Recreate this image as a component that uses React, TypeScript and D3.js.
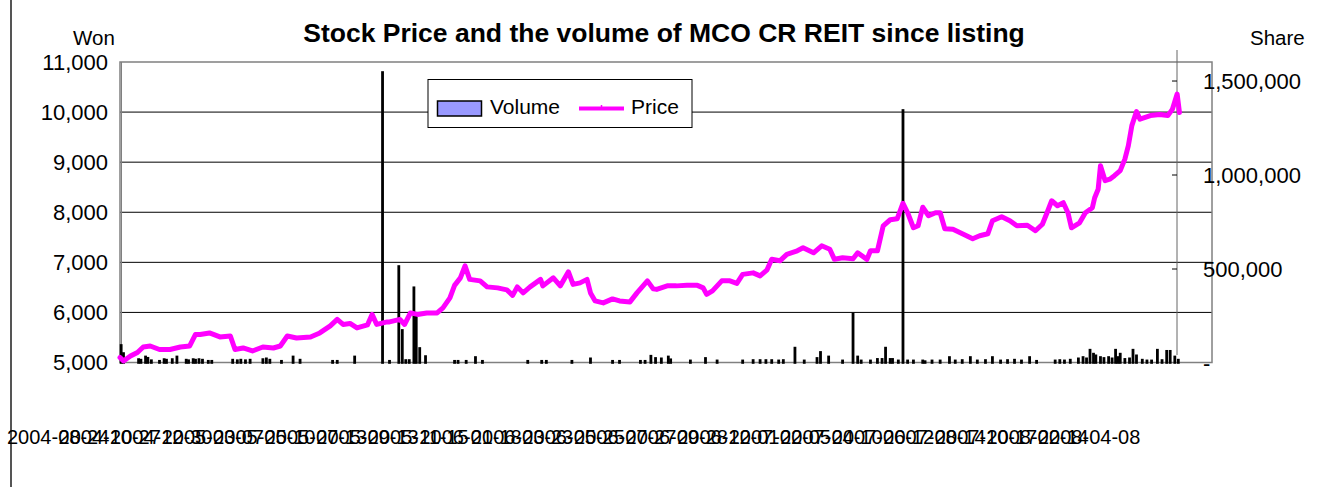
import React from 'react';
import * as d3 from 'd3';

// trading-day index (from listing) and closing price
const priceDays = [
  0, 3, 9, 15, 20, 26, 34, 43, 52, 60, 65, 69, 77, 86, 95, 99, 106, 114, 123, 132,
  138, 144, 152, 164, 172, 181, 187, 192, 198, 204, 213, 217, 221, 230, 232, 241, 245, 250, 256, 264,
  273, 278, 284, 288, 293, 297, 301, 310, 316, 325, 333, 338, 342, 347, 353, 362, 364, 373, 379, 386,
  390, 396, 402, 405, 409, 416, 424, 430, 439, 445, 454, 459, 462, 471, 479, 488, 497, 502, 505, 510,
  518, 525, 531, 536, 545, 551, 557, 561, 568, 574, 583, 588, 597, 604, 611, 615, 622, 631, 635, 643,
  646, 652, 657, 663, 669, 674, 678, 683, 687, 691, 696, 702, 706, 710, 717, 726, 734, 740, 747, 751,
  759, 766, 772, 781, 788, 794, 798, 802, 807, 812, 816, 819, 826, 831, 837, 839, 842, 844, 848, 852,
  856, 861, 865, 868, 871, 875, 878, 887, 895, 902, 906, 910, 912
];
const priceValues = [
  5100, 5030, 5130, 5200, 5310, 5330, 5260, 5260, 5310, 5330, 5560, 5560, 5590, 5510, 5530, 5260, 5290, 5230, 5310, 5290,
  5330, 5530, 5490, 5510, 5590, 5730, 5860, 5760, 5780, 5690, 5750, 5960, 5760, 5810, 5810, 5860, 5760, 5990, 5960, 5990,
  5990, 6090, 6290, 6540, 6690, 6930, 6660, 6630, 6510, 6490, 6450, 6340, 6510, 6390, 6510, 6660, 6530, 6690, 6530, 6810,
  6560, 6590, 6660, 6390, 6230, 6190, 6270, 6230, 6210, 6390, 6630, 6470, 6460, 6530, 6530, 6540, 6540, 6490, 6360, 6430,
  6630, 6630, 6580, 6760, 6790, 6730, 6850, 7060, 7030, 7160, 7230, 7290, 7190, 7330, 7260, 7060, 7090, 7070, 7190, 7060,
  7230, 7230, 7730, 7850, 7870, 8180, 7990, 7690, 7730, 8100, 7930, 7990, 7990, 7670, 7660, 7560, 7470, 7530, 7570, 7830,
  7910, 7830, 7730, 7740, 7630, 7760, 7990, 8230, 8130, 8190, 7990, 7690, 7790, 7990, 8090, 8290, 8460, 8930, 8630, 8660,
  8730, 8830, 9060, 9330, 9730, 10010, 9860, 9930, 9950, 9930, 10060, 10360, 9990
];

// trading-day index and traded shares
const volumeDays = [
  1, 3, 16, 18, 22, 24, 27, 34, 38, 40, 45, 49, 57, 59, 63, 65, 68, 71, 76, 79,
  97, 101, 104, 108, 112, 123, 126, 129, 139, 149, 155, 183, 187, 202, 226, 232, 240, 243, 246, 249,
  253, 255, 258, 263, 288, 291, 298, 306, 312, 351, 363, 367, 389, 405, 424, 430, 448, 452, 457, 461,
  466, 472, 474, 491, 504, 514, 536, 545, 551, 556, 561, 567, 571, 581, 589, 600, 603, 610, 622, 631,
  635, 638, 646, 652, 656, 659, 663, 665, 670, 674, 678, 683, 691, 693, 699, 706, 714, 719, 725, 732,
  738, 745, 751, 758, 764, 770, 776, 783, 789, 805, 809, 813, 818, 825, 829, 832, 835, 838, 840, 844,
  847, 851, 854, 857, 859, 861, 865, 869, 872, 875, 880, 884, 888, 893, 897, 901, 904, 908, 911
];
const volumeValues = [
  96000, 53000, 21000, 18000, 35000, 28000, 15000, 12000, 21000, 18000, 21000, 35000, 18000, 15000, 21000, 18000, 21000, 18000, 12000, 12000,
  18000, 15000, 18000, 15000, 18000, 21000, 25000, 18000, 12000, 35000, 18000, 12000, 12000, 35000, 1548000, 12000, 516000, 176000, 16000, 16000,
  403000, 250000, 80000, 37000, 12000, 12000, 12000, 32000, 12000, 12000, 12000, 12000, 12000, 25000, 12000, 12000, 12000, 12000, 39000, 27000,
  25000, 35000, 20000, 14000, 27000, 14000, 14000, 16000, 16000, 16000, 16000, 14000, 16000, 82000, 14000, 27000, 59000, 35000, 14000, 264000,
  35000, 14000, 14000, 22000, 22000, 82000, 22000, 22000, 14000, 1346000, 14000, 14000, 14000, 10000, 14000, 14000, 32000, 14000, 16000, 32000,
  14000, 16000, 32000, 14000, 16000, 18000, 14000, 32000, 12000, 14000, 16000, 14000, 18000, 25000, 32000, 25000, 71000, 50000, 41000, 32000,
  27000, 32000, 25000, 71000, 32000, 50000, 22000, 25000, 71000, 41000, 18000, 14000, 14000, 71000, 16000, 65000, 65000, 35000, 18000
];

const priceTicks = [5000, 6000, 7000, 8000, 9000, 10000, 11000];
const shareTicks = [500000, 1000000, 1500000];

const dateLabels = [
  '2004-08-24', '2004-10-27', '2004-12-30', '2005-03-07', '2005-05-10', '2005-07-13', '2005-09-13',
  '2005-11-15', '2006-01-18', '2006-03-23', '2006-05-25', '2006-07-27', '2006-09-28', '2006-12-01',
  '2007-02-05', '2007-04-10', '2007-06-12', '2007-08-14', '2007-10-17', '2008-02-14', '2008-04-08'
];

const FONT = "Arial, 'Liberation Sans', sans-serif";

export default function App() {
  const left = 120;
  const right = 1212;
  const top = 62;
  const bottom = 362.5;

  const x = d3.scaleLinear().domain([0, 940]).range([left, right]);
  const yPrice = d3.scaleLinear().domain([5000, 11000]).range([bottom, top]);
  const yVol = d3.scaleLinear().domain([0, 1665000]).range([363, 50]);
  const xLab = d3.scalePoint<string>().domain(dateLabels).range([7, 1038]);
  const fmt = d3.format(',');

  const line = d3
    .line<number>()
    .x((_, i) => x(priceDays[i]))
    .y(d => yPrice(d));

  const bw = 1.2;

  return (
    <svg
      width={1337}
      height={487}
      style={{ position: 'absolute', left: 0, top: 0, background: '#fff' }}
      fontFamily={FONT}
    >
      <line x1={11} x2={11} y1={0} y2={487} stroke="#555" strokeWidth={2} />

      <text x={664} y={42} textAnchor="middle" fontWeight="bold" fontSize={26.5}>
        Stock Price and the volume of MCO CR REIT since listing
      </text>
      <text x={73} y={45} fontSize={20.5}>Won</text>
      <text x={1250} y={45} fontSize={20.5}>Share</text>

      {/* gridlines */}
      {priceTicks.slice(1, -1).map(t => (
        <line key={t} x1={left} x2={right} y1={yPrice(t)} y2={yPrice(t)} stroke="#000" strokeWidth={1} />
      ))}
      <rect x={left} y={top} width={right - left} height={bottom - top} fill="none" stroke="#808080" strokeWidth={1.5} />
      <line x1={left + 1.5} x2={left + 1.5} y1={top} y2={bottom} stroke="#808080" strokeWidth={1} />

      {priceTicks.map(t => (
        <text key={t} x={108} y={yPrice(t)} dy="0.35em" textAnchor="end" fontSize={22}>
          {fmt(t)}
        </text>
      ))}

      {/* secondary axis */}
      <line x1={1177} x2={1177} y1={50} y2={355} stroke="#666" strokeWidth={1} />
      {shareTicks.map(t => (
        <g key={t}>
          <line x1={1172} x2={1177} y1={yVol(t)} y2={yVol(t)} stroke="#000" />
          <text x={1203} y={yVol(t)} dy="0.35em" fontSize={22}>
            {fmt(t)}
          </text>
        </g>
      ))}
      <text x={1203} y={yVol(0)} dy="0.35em" fontSize={22}>-</text>

      {/* volume bars */}
      {volumeDays.map((d, i) => (
        <rect
          key={d}
          x={x(d) - bw / 2}
          y={yVol(volumeValues[i])}
          width={bw}
          height={yVol(0) - yVol(volumeValues[i])}
          fill="#9999FF"
          stroke="#000"
          strokeWidth={1.6}
        />
      ))}

      {/* price */}
      <path
        d={line(priceValues) || ''}
        fill="none"
        stroke="#FF00FF"
        strokeWidth={5}
        strokeLinejoin="round"
        strokeLinecap="round"
      />

      {/* legend */}
      <rect x={428} y={79.5} width={264} height={48} fill="#fff" stroke="#000" strokeWidth={1} />
      <rect x={437.5} y={101} width={44} height={15} fill="#9999FF" stroke="#000" strokeWidth={1.5} />
      <text x={490} y={114} fontSize={21}>Volume</text>
      <line x1={579} x2={624} y1={108.5} y2={108.5} stroke="#FF00FF" strokeWidth={4} />
      <line x1={601.5} x2={601.5} y1={105} y2={108} stroke="#FF00FF" strokeWidth={1.5} />
      <text x={631} y={114} fontSize={21}>Price</text>

      {/* overlapping category labels */}
      {dateLabels.map(l => (
        <text key={l} x={xLab(l)} y={444} fontSize={20}>
          {l}
        </text>
      ))}
    </svg>
  );
}
